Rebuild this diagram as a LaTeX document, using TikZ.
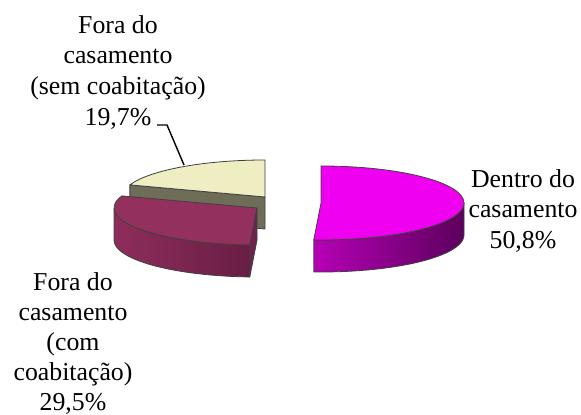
\documentclass[tikz,border=0pt]{standalone}
\usepackage{fontspec}
\setmainfont{Liberation Serif}
\usetikzlibrary{calc}
\definecolor{magtop}{RGB}{240,0,240}
\definecolor{magsideL}{RGB}{182,0,182}
\definecolor{magsideR}{RGB}{92,0,92}
\definecolor{rostop}{RGB}{147,48,94}
\definecolor{rossideL}{RGB}{142,45,91}
\definecolor{rossideR}{RGB}{104,30,68}
\definecolor{roscut}{RGB}{112,34,73}
\definecolor{yeltop}{RGB}{238,238,194}
\definecolor{yelside}{RGB}{110,110,88}
\newcommand{\pierx}{143} % ellipse radius in px
\newcommand{\piery}{37}
\newcommand{\piedepth}{32} % slice thickness in px

\newcommand{\pietop}[4] % centre, start angle, end angle, fill
{
	% top face of a slice
	\filldraw[rim, fill=#4] (#1) -- ($(#1)+({\pierx*cos(#2)},{\piery*sin(#2)})$)
		arc[start angle=#2, end angle=#3, x radius=\pierx, y radius=\piery] -- cycle;
}
\newcommand{\pieside}[5] % centre, start angle, end angle, left colour, right colour
{
	% curved front wall
	\shadedraw[rim, left color=#4, right color=#5] ($(#1)+({\pierx*cos(#2)},{\piery*sin(#2)})$)
		arc[start angle=#2, end angle=#3, x radius=\pierx, y radius=\piery]
		-- ++(0,-\piedepth)
		arc[start angle=#3, end angle=#2, x radius=\pierx, y radius=\piery] -- cycle;
}
\newcommand{\piecut}[3] % centre, angle, fill
{
	% flat wall along one radius
	\filldraw[rim, fill=#3] (#1) -- ($(#1)+({\pierx*cos(#2)},{\piery*sin(#2)})$)
		-- ++(0,-\piedepth) -- ($(#1)+(0,-\piedepth)$) -- cycle;
}

\begin{document}
\begin{tikzpicture}[x=0.5pt, y=0.5pt,
	rim/.style={draw=black!75, line width=0.4pt, line join=round},
	pielabel/.style={align=center, inner sep=0pt, anchor=north, font=\fontsize{12.9}{15.3}\selectfont}]
	\useasboundingbox (0,0) rectangle (581,415);
	% slice centres, exploded
	\coordinate (cY) at (265,218);
	\coordinate (cR) at (257,207);
	\coordinate (cM) at (321,212);
	% sem coabitacao 19,7%
	\piecut{cY}{160.9}{yelside};
	\pietop{cY}{90}{160.9}{yeltop};
	% com coabitacao 29,5%
	\piecut{cR}{267.1}{roscut};
	\pieside{cR}{180}{267.1}{rossideL}{rossideR};
	\pietop{cR}{160.9}{267.1}{rostop};
	% dentro do casamento 50,8%
	\pieside{cM}{-92.9}{0}{magsideL}{magsideR};
	\pietop{cM}{90}{-92.9}{magtop};

	% labels
	\node[pielabel] (lblY) at (118,400) {Fora do\\casamento\\(sem coabitação)\\19,7\%};
	\node[pielabel, font=\fontsize{12.9}{15}\selectfont] (lblR) at (73,143) {Fora do\\casamento\\(com\\coabitação)\\29,5\%};
	\node[pielabel] (lblM) at (523,246) {Dentro do\\casamento\\50,8\%};
	% leader
	\coordinate (legY) at (157,290);
	\coordinate (kneeY) at (167,290);
	\coordinate (tipY) at (184,250);
	\draw[line width=0.7pt] (legY) -- (kneeY) -- (tipY);
\end{tikzpicture}
\end{document}
